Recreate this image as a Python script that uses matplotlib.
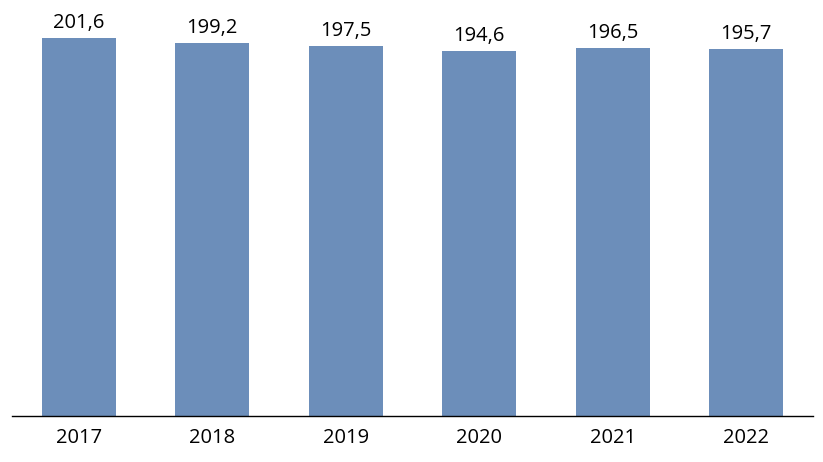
import matplotlib.pyplot as plt

years = ["2017", "2018", "2019", "2020", "2021", "2022"]
values = [201.6, 199.2, 197.5, 194.6, 196.5, 195.7]
labels = ["201,6", "199,2", "197,5", "194,6", "196,5", "195,7"]

plt.rcParams['font.family'] = ['Open Sans', 'DejaVu Sans']

fig = plt.figure(figsize=(8.23, 4.62), dpi=100)
ax = fig.add_axes([0.0146, 0.0996, 0.9733, 0.9004])

x = list(range(len(years)))
bars = ax.bar(x, values, width=0.555, color="#6C8EBA")

for xi, v, lab in zip(x, values, labels):
    ax.text(xi, v + 2.5, lab, ha="center", va="bottom", fontsize=14.5, color="black")

ax.set_xlim(-0.5, 5.5)
ax.set_ylim(0, 221.9)
ax.set_xticks(x)
ax.set_xticklabels(years, fontsize=14.5)
ax.tick_params(axis="x", length=0, pad=9)
ax.set_yticks([])
for side in ["top", "right", "left"]:
    ax.spines[side].set_visible(False)
ax.spines["bottom"].set_linewidth(1.0)

fig.savefig("out.png", dpi=100)
